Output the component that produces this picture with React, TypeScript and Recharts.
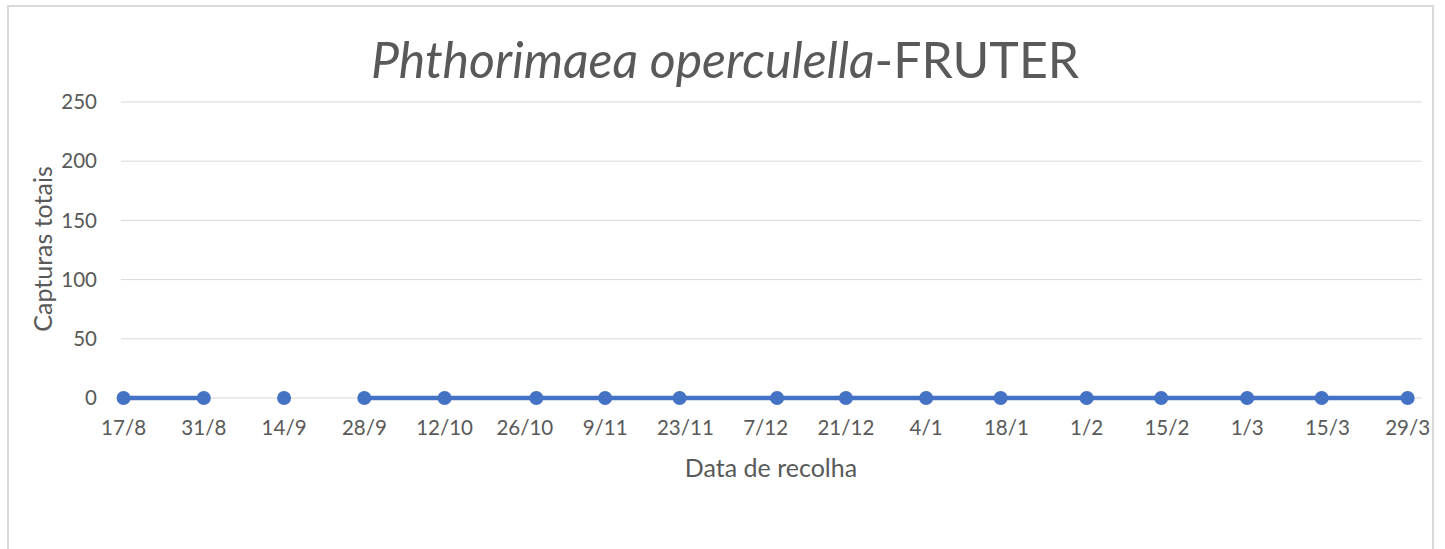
import React from 'react';
import { LineChart, Line, XAxis, YAxis, CartesianGrid } from 'recharts';

// Collection dates (dd/mm) with total captures; null = no reading (gap in line)
const sampleDates = [
  '2021-08-17', '2021-08-31', '2021-09-07', '2021-09-14', '2021-09-21', '2021-09-28',
  '2021-10-12', '2021-10-28', '2021-11-09', '2021-11-22', '2021-12-09', '2021-12-21',
  '2022-01-04', '2022-01-17', '2022-02-01', '2022-02-14', '2022-03-01', '2022-03-14',
  '2022-03-29',
];
const captures: (number | null)[] = [
  0, 0, null, 0, null, 0,
  0, 0, 0, 0, 0, 0,
  0, 0, 0, 0, 0, 0,
  0,
];

const tickDates = [
  '2021-08-17', '2021-08-31', '2021-09-14', '2021-09-28', '2021-10-12', '2021-10-26',
  '2021-11-09', '2021-11-23', '2021-12-07', '2021-12-21', '2022-01-04', '2022-01-18',
  '2022-02-01', '2022-02-15', '2022-03-01', '2022-03-15', '2022-03-29',
];
const tickLabels = [
  '17/8', '31/8', '14/9', '28/9', '12/10', '26/10', '9/11', '23/11', '7/12',
  '21/12', '4/1', '18/1', '1/2', '15/2', '1/3', '15/3', '29/3',
];
const yTicks = [0, 50, 100, 150, 200, 250];

const DAY = 86400000;
const origin = Date.parse(sampleDates[0]);
const toDay = (s: string) => Math.round((Date.parse(s) - origin) / DAY);

const data = sampleDates.map((d, i) => ({ day: toDay(d), value: captures[i] }));
const xTicks = tickDates.map(toDay);
const labelFor: Record<number, string> = {};
xTicks.forEach((t, i) => { labelFor[t] = tickLabels[i]; });

const FONT = 'Lato, "Open Sans", sans-serif';
const TEXT = '#595959';
const BLUE = '#4472C4';

export default function App() {
  return (
    <div style={{ position: 'absolute', left: 0, top: 0, width: 1445, height: 549, overflow: 'hidden', background: '#fff' }}>
      <div style={{
        position: 'absolute', left: 7, top: 5, width: 1427, height: 600,
        borderLeft: '2px solid #d9d9d9', borderTop: '2px solid #d9d9d9', borderRight: '2px solid #d9d9d9',
        boxSizing: 'border-box',
      }} />
      <div style={{ position: 'absolute', left: 0, top: 0 }}>
        <LineChart width={1445} height={549} data={data}
          margin={{ top: 102, right: 23, bottom: 111, left: 0 }}>
          <CartesianGrid horizontal vertical={false} stroke="#d9d9d9" strokeWidth={1} />
          <XAxis dataKey="day" type="number" domain={[-0.45, 226.5]} ticks={xTicks}
            height={40} axisLine={false} tickLine={false} tickSize={0} tickMargin={22}
            interval={0}
            tickFormatter={(v: number) => labelFor[v] ?? ''}
            tick={{ fill: TEXT, fontSize: 20.5, fontFamily: FONT }} />
          <YAxis type="number" domain={[0, 250]} ticks={yTicks} width={121}
            axisLine={false} tickLine={false} tickSize={0} tickMargin={24}
            tick={{ fill: TEXT, fontSize: 20.5, fontFamily: FONT }} />
          <Line type="linear" dataKey="value" stroke={BLUE} strokeWidth={4.5}
            dot={{ r: 7, fill: BLUE, stroke: BLUE, strokeWidth: 0 }}
            connectNulls={false} isAnimationActive={false} />
        </LineChart>
      </div>
      <div style={{
        position: 'absolute', left: 0, width: 1450, top: 28, textAlign: 'center',
        fontFamily: FONT, fontSize: 50, color: TEXT, lineHeight: '62px', whiteSpace: 'nowrap',
      }}>
        <span style={{ fontStyle: 'italic' }}>Phthorimaea operculella</span>-FRUTER
      </div>
      <div style={{
        position: 'absolute', left: 771 - 150, width: 300, top: 452, textAlign: 'center',
        fontFamily: FONT, fontSize: 25, color: TEXT, lineHeight: '30px',
      }}>Data de recolha</div>
      <div style={{
        position: 'absolute', left: 42 - 150, width: 300, top: 249 - 15, textAlign: 'center',
        fontFamily: FONT, fontSize: 25, color: TEXT, lineHeight: '30px',
        transform: 'rotate(-90deg)', transformOrigin: '150px 15px',
      }}>Capturas totais</div>
    </div>
  );
}
